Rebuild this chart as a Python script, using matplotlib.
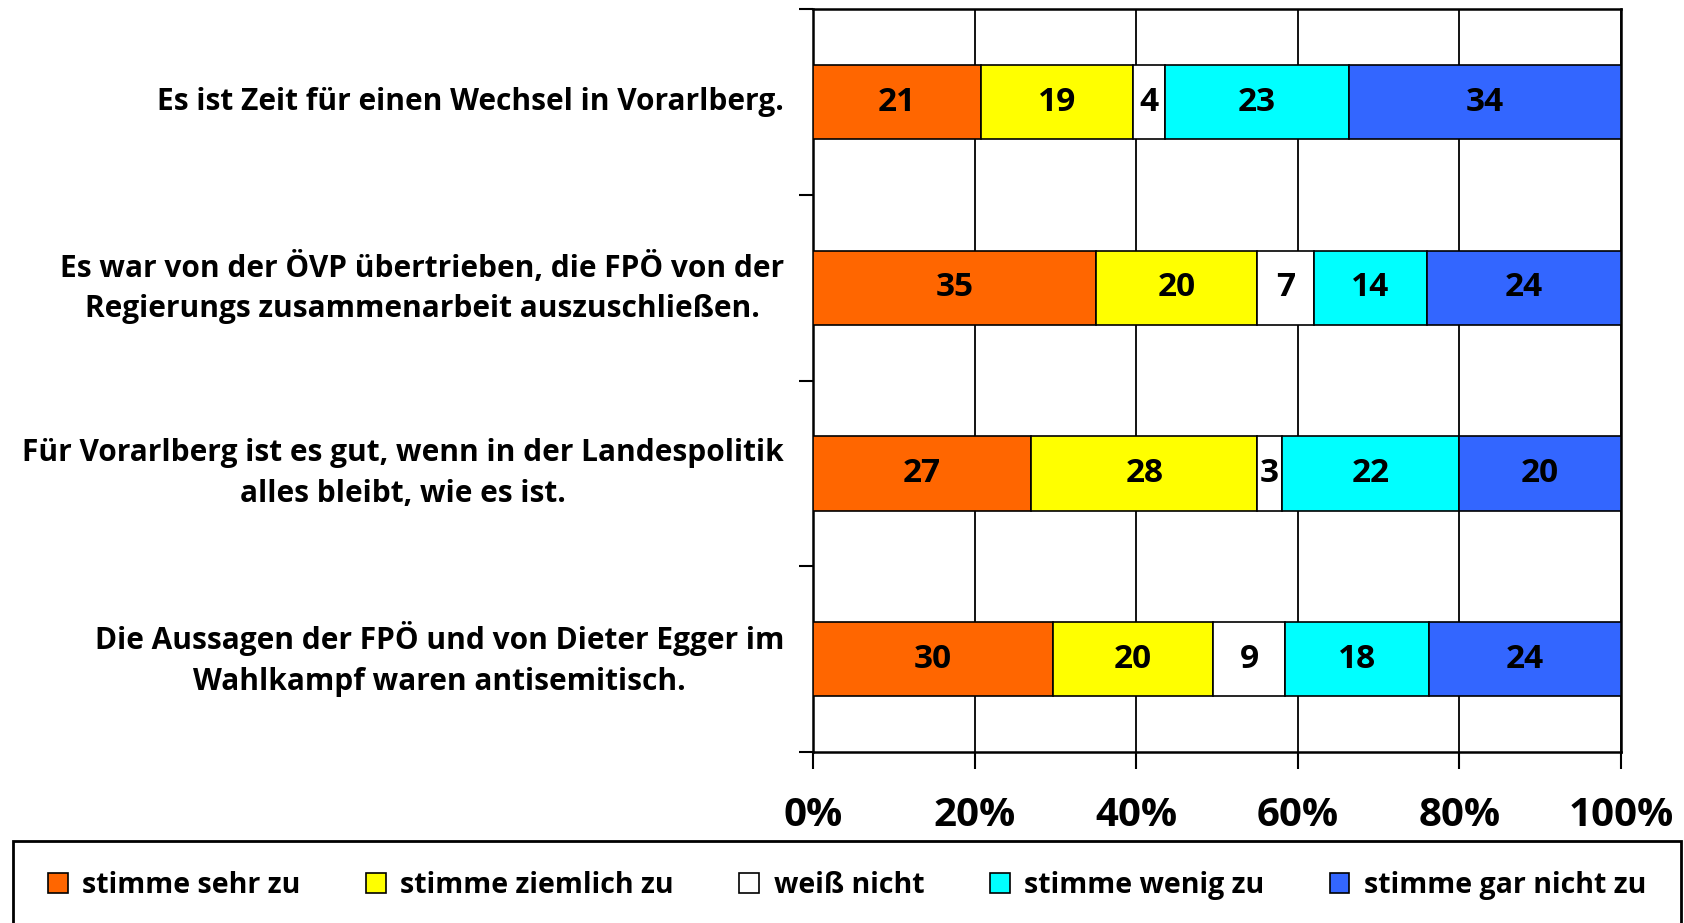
import numpy as np
import matplotlib.pyplot as plt
from matplotlib.patches import Rectangle
from matplotlib.transforms import ScaledTranslation

plt.rcParams['font.family'] = ['Open Sans', 'DejaVu Sans']
plt.rcParams['font.weight'] = 'bold'

# Daten
aussagen = [
    'Es ist Zeit für einen Wechsel in Vorarlberg.',
    'Es war von der ÖVP übertrieben, die FPÖ von der\nRegierungs zusammenarbeit auszuschließen.',
    'Für Vorarlberg ist es gut, wenn in der Landespolitik\nalles bleibt, wie es ist.',
    'Die Aussagen der FPÖ und von Dieter Egger im\nWahlkampf waren antisemitisch.',
]
antworten = ['stimme sehr zu', 'stimme ziemlich zu', 'weiß nicht',
             'stimme wenig zu', 'stimme gar nicht zu']
sehr_zu = [21, 35, 27, 30]
ziemlich_zu = [19, 20, 28, 20]
weiss_nicht = [4, 7, 3, 9]
wenig_zu = [23, 14, 22, 18]
gar_nicht_zu = [34, 24, 20, 24]
farben = ['#FF6600', '#FFFF00', '#FFFFFF', '#00FFFF', '#3366FF']

werte = np.array([sehr_zu, ziemlich_zu, weiss_nicht, wenig_zu, gar_nicht_zu], dtype=float)
anteile = werte / werte.sum(axis=0) * 100

fig = plt.figure(figsize=(16.84, 9.23), dpi=100)
ax = fig.add_axes([0.4828, 0.1853, 0.4798, 0.8047])

y = np.arange(len(aussagen))
links = np.zeros(len(aussagen))
for i, name in enumerate(antworten):
    bars = ax.barh(y, anteile[i], left=links, height=0.4, color=farben[i],
                   edgecolor='black', linewidth=1.2, label=name, zorder=3)
    for j, b in enumerate(bars):
        ax.text(links[j] + anteile[i][j] / 2, y[j], '%d' % werte[i][j],
                ha='center', va='center', fontsize=24, fontweight='bold', zorder=4)
    links += anteile[i]

ax.set_xlim(0, 100)
ax.set_ylim(3.5, -0.5)
ax.set_xticks([0, 20, 40, 60, 80, 100])
ax.set_xticklabels(['0%', '20%', '40%', '60%', '80%', '100%'], fontsize=29, fontweight='bold')

# Beschriftungen der Aussagen als Text links neben der Achse
ax.set_yticks([])
tr = ax.get_yaxis_transform() + ScaledTranslation(-29 / 100, 0, fig.dpi_scale_trans)
for j, txt in enumerate(aussagen):
    ax.text(0, y[j], txt, transform=tr, ha='right', va='center', multialignment='center',
            fontsize=21.5, fontweight='bold', linespacing=1.45)

ax.set_yticks([-0.5, 0.5, 1.5, 2.5, 3.5], minor=True)
ax.tick_params(axis='y', which='minor', length=10, width=1.5)
ax.tick_params(axis='x', length=12, width=1.5, pad=20)
ax.grid(axis='x', color='black', linewidth=1.3, zorder=0)
for s in ax.spines.values():
    s.set_linewidth(1.8)

# Legende mit Rahmen über die ganze Breite
fig.patches.append(Rectangle((13 / 1684, -0.01), 1668 / 1684, 0.0988, transform=fig.transFigure,
                             fill=False, edgecolor='black', linewidth=2))
fig.legend(loc='center', bbox_to_anchor=(0.503, 0.041), ncol=5, frameon=False,
           handlelength=0.7, handleheight=0.7, handletextpad=0.5,
           columnspacing=2.3, prop={'weight': 'bold', 'size': 20.5})

fig.savefig('out.png', dpi=100)
